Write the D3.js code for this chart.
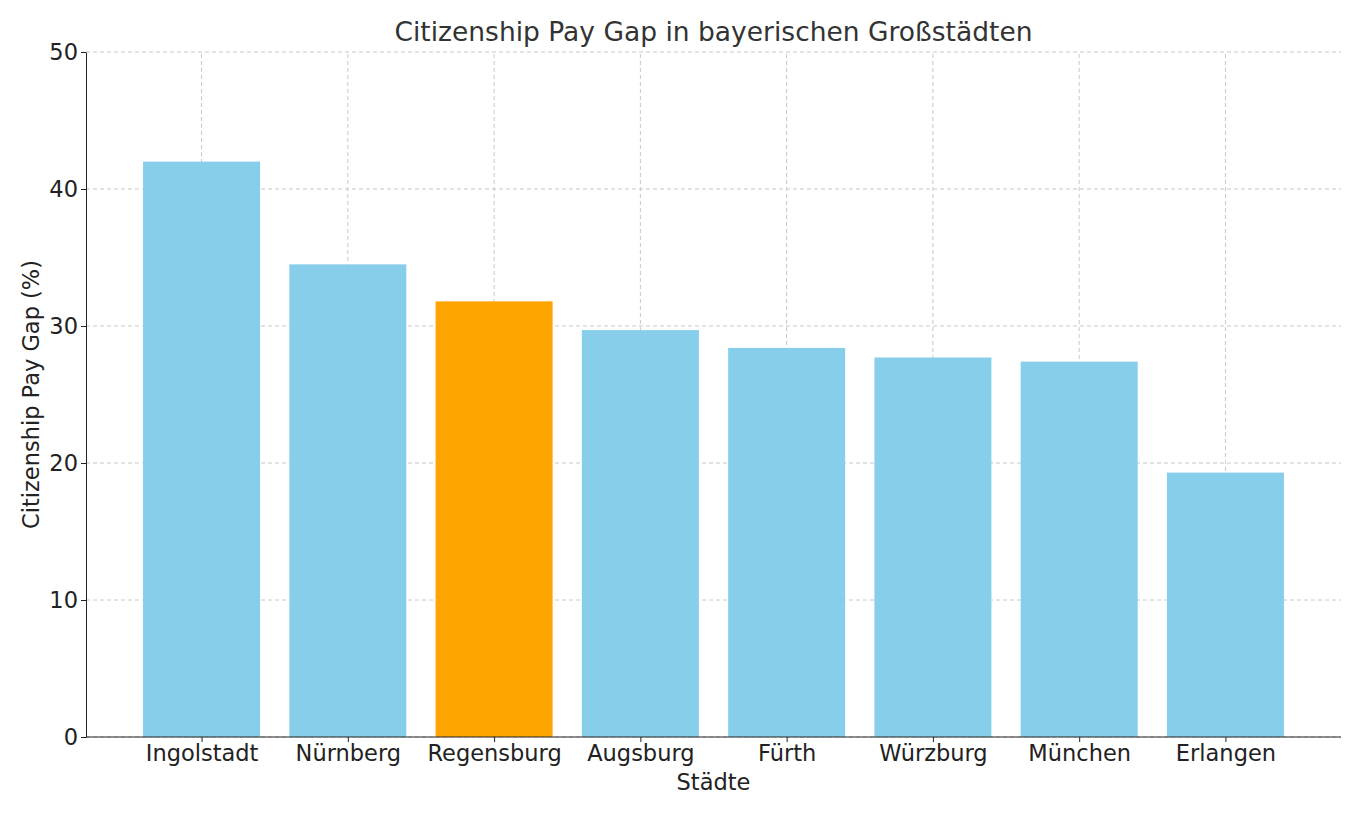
<!DOCTYPE html>
<html>
<head>
<meta charset="utf-8">
<script src="https://cdn.jsdelivr.net/npm/d3@7"></script>
<style>
  body { margin: 0; background: #fff; }
  text { font-family: "DejaVu Sans", sans-serif; fill: #222; }
</style>
</head>
<body>
<div id="container"></div>
<script>
/* DATA */
const cities = ["Ingolstadt", "Nürnberg", "Regensburg", "Augsburg", "Fürth", "Würzburg", "München", "Erlangen"];
const gapValues = [42.0, 34.5, 31.8, 29.7, 28.4, 27.7, 27.4, 19.3];
const yTicks = [0, 10, 20, 30, 40, 50];
const highlight = "Regensburg";

/* CONSTANTS */
const width = 1361, height = 816;
const margin = { top: 52, left: 86, right: 20, bottom: 79 };

const svg = d3.select("#container").append("svg")
  .attr("width", width).attr("height", height);

/* SCALES */
const xScale = d3.scaleLinear()
  .domain([-0.79, cities.length - 1 + 0.79])
  .range([margin.left, width - margin.right]);
const yScale = d3.scaleLinear()
  .domain([0, 50])
  .range([height - margin.bottom, margin.top]);
const barW = xScale(0.8) - xScale(0);

// GRID ------------------------------------------------
const grid = svg.append("g").attr("stroke", "#c8c8c8").attr("stroke-dasharray", "4,3");
grid.selectAll(".gx").data(cities).join("line")
  .attr("x1", (d, i) => xScale(i)).attr("x2", (d, i) => xScale(i))
  .attr("y1", yScale(0)).attr("y2", yScale(50));
grid.selectAll(".gy").data(yTicks).join("line")
  .attr("x1", xScale.range()[0]).attr("x2", xScale.range()[1])
  .attr("y1", d => yScale(d)).attr("y2", d => yScale(d));

// BARS ------------------------------------------------
svg.selectAll(".bar").data(cities).join("rect")
  .attr("class", "bar")
  .attr("x", (d, i) => xScale(i) - barW / 2)
  .attr("width", barW)
  .attr("y", (d, i) => yScale(gapValues[i]))
  .attr("height", (d, i) => yScale(0) - yScale(gapValues[i]))
  .attr("fill", d => d === highlight ? "#ffa500" : "#87ceeb");

// AXES ------------------------------------------------
const xAxis = svg.append("g")
  .attr("transform", `translate(0,${yScale(0)})`)
  .call(d3.axisBottom(xScale).tickValues(d3.range(cities.length)).tickFormat(i => cities[i]).tickSize(5).tickSizeOuter(0));
const yAxis = svg.append("g")
  .attr("transform", `translate(${margin.left},0)`)
  .call(d3.axisLeft(yScale).tickValues(yTicks).tickSize(5).tickSizeOuter(0));
[xAxis, yAxis].forEach(a => {
  a.selectAll("text").style("font-size", "22.5px").attr("fill", "#222");
  a.selectAll("line,path").attr("stroke", "#222");
});
xAxis.selectAll("text").attr("dy", "0.72em");
xAxis.select(".domain").attr("d", `M${margin.left},0H${width - margin.right}`);

// LABELS ----------------------------------------------
svg.append("text")
  .attr("x", (margin.left + width - margin.right) / 2).attr("y", 41)
  .attr("text-anchor", "middle").style("font-size", "26.5px").style("fill", "#333")
  .text("Citizenship Pay Gap in bayerischen Großstädten");
svg.append("text")
  .attr("x", (margin.left + width - margin.right) / 2).attr("y", 790)
  .attr("text-anchor", "middle").style("font-size", "22.5px")
  .text("Städte");
svg.append("text")
  .attr("transform", `translate(39,${(margin.top + height - margin.bottom) / 2}) rotate(-90)`)
  .attr("text-anchor", "middle").style("font-size", "22.5px")
  .text("Citizenship Pay Gap (%)");
</script>
</body>
</html>
